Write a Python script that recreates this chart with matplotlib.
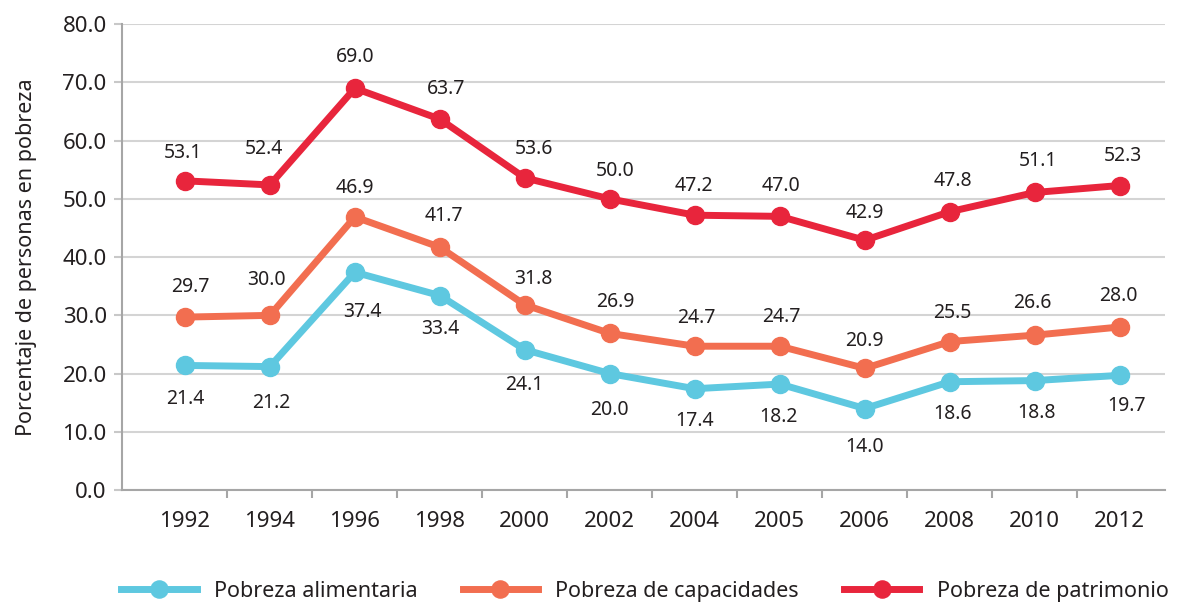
import numpy as np
import matplotlib
matplotlib.use("Agg")
import matplotlib.pyplot as plt

plt.rcParams["font.family"] = ["Noto Sans", "DejaVu Sans"]

years = ["1992", "1994", "1996", "1998", "2000", "2002", "2004", "2005", "2006", "2008", "2010", "2012"]
alimentaria = [21.4, 21.2, 37.4, 33.4, 24.1, 20.0, 17.4, 18.2, 14.0, 18.6, 18.8, 19.7]
capacidades = [29.7, 30.0, 46.9, 41.7, 31.8, 26.9, 24.7, 24.7, 20.9, 25.5, 26.6, 28.0]
patrimonio = [53.1, 52.4, 69.0, 63.7, 53.6, 50.0, 47.2, 47.0, 42.9, 47.8, 51.1, 52.3]

# value-label placement, pixels relative to each marker (dx, dy; +dy is up)
dy_ali = [-34, -36, -40, -33, -35, -36, -32, -33, -38, -32, -32, -31]
dx_ali = [0, 1, 8, 0, -1, 0, 0, -1, 0, 3, 2, 7]
dy_cap = [30, 35, 29, 31, 26, 31, 28, 29, 27, 29, 32, 31]
dx_cap = [5, -3, 0, 4, 9, 5, 2, 2, 0, 3, -2, -1]
dy_pat = [28, 36, 31, 30, 29, 28, 29, 30, 27, 31, 31, 30]
dx_pat = [-2, -6, 0, 6, 9, 5, -1, 1, 0, 3, 3, 3]

series = [
    ("Pobreza alimentaria", alimentaria, "#5ec8e0", dx_ali, dy_ali),
    ("Pobreza de capacidades", capacidades, "#f26e50", dx_cap, dy_cap),
    ("Pobreza de patrimonio", patrimonio, "#e8253c", dx_pat, dy_pat),
]

txt = "#231f20"
px = 72 / 100  # points per pixel at dpi 100

fig = plt.figure(figsize=(11.81, 6.05), dpi=100)
ax = fig.add_axes([0.1033, 0.19, 0.883, 0.77])

x = np.arange(len(years))
for name, vals, color, dxs, dys in series:
    ax.plot(x, vals, "-o", color=color, lw=5, ms=13, label=name, zorder=3)
    for xi, v, dx, dy in zip(x, vals, dxs, dys):
        ax.annotate(f"{v:.1f}", (xi, v), xytext=(dx * px, dy * px), textcoords="offset points",
                    ha="center", va="center", fontsize=14, color=txt)

ax.set_xlim(-0.74, 11.53)
ax.set_ylim(0, 80)
yt = np.arange(0, 81, 10)
ax.set_yticks(yt)
ax.set_yticklabels([f"{t:.1f}" for t in yt])
ax.set_xticks(x)
ax.set_xticklabels(years)
ax.set_xticks(np.arange(0.5, 11, 1), minor=True)
ax.tick_params(axis="x", which="major", length=0, pad=15, labelsize=16, labelcolor=txt)
ax.tick_params(axis="x", which="minor", length=6, color="#a6a6a6", width=1.5)
ax.tick_params(axis="y", length=6, color="#c8c8c8", width=1.5, labelsize=16, labelcolor=txt, pad=5)
ax.grid(axis="y", color="#d4d4d4", lw=1.5, zorder=0)
for s in ["top", "right"]:
    ax.spines[s].set_visible(False)
for s in ["left", "bottom"]:
    ax.spines[s].set_color("#a6a6a6")
    ax.spines[s].set_linewidth(1.5)
ax.set_ylabel("Porcentaje de personas en pobreza", fontsize=15.5, color=txt, labelpad=18)

fig.legend(loc="center", bbox_to_anchor=(0.546, 0.023), ncol=3, frameon=False,
           fontsize=15.5, handlelength=3.5, columnspacing=2.1, handletextpad=0.8,
           labelcolor=txt, borderpad=0, markerscale=0.95)

fig.savefig("out.png", dpi=100)
